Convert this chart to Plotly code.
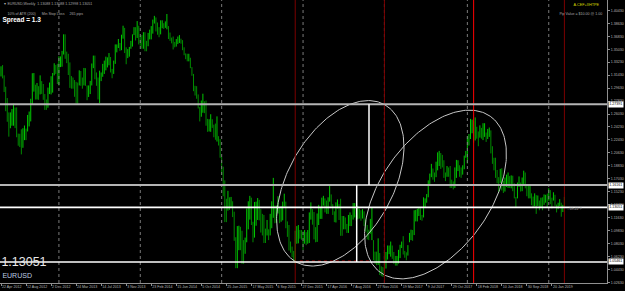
import math
import pandas as pd
import plotly.graph_objects as go

# ---------------- data: weekly EURUSD bars (low, high) ----------------
bars_2012 = [(1.3035,1.3215),(1.3125,1.3266),(1.3098,1.3283),(1.2908,1.3140),(1.2642,1.2982),(1.2495,1.2825),
             (1.2288,1.2625),(1.2405,1.2625),(1.2440,1.2672),(1.2440,1.2747),(1.2407,1.2693),(1.2280,1.2695),
             (1.2162,1.2330),(1.2143,1.2328),(1.2042,1.2390),(1.2133,1.2405),(1.2240,1.2443),(1.2240,1.2400),
             (1.2360,1.2590),(1.2430,1.2637),(1.2500,1.2815),(1.2730,1.3170),(1.2914,1.3172),(1.2804,1.3010),
             (1.2805,1.3034),(1.2800,1.2990),(1.2875,1.3140),(1.2882,1.3060),(1.2800,1.3020),(1.2660,1.2880),
             (1.2660,1.2805),(1.2690,1.2970),(1.2880,1.3040),(1.2875,1.3128),(1.2900,1.3173),(1.3140,1.3308),
             (1.3160,1.3285),(1.3020,1.3300)]
bars_2013 = [(1.3000,1.3405),(1.3255,1.3403),(1.3260,1.3480),(1.3430,1.3711),(1.3370,1.3710),(1.3310,1.3470),
             (1.3145,1.3440),(1.2966,1.3320),(1.2955,1.3130),(1.2955,1.3110),(1.2842,1.3075),(1.2750,1.3050),
             (1.2745,1.3040),(1.3000,1.3210),(1.2995,1.3200),(1.2955,1.3110),(1.3000,1.3243),(1.2995,1.3240),
             (1.2795,1.3000),(1.2840,1.3000),(1.2880,1.3063),(1.3000,1.3305),(1.3240,1.3415),(1.3085,1.3415),
             (1.2995,1.3180),(1.2805,1.3110),(1.2755,1.3205),(1.3060,1.3180),(1.3120,1.3300),(1.3160,1.3345),
             (1.3210,1.3400),(1.3250,1.3390),(1.3280,1.3450),(1.3180,1.3395),(1.3100,1.3230),(1.3160,1.3345),
             (1.3300,1.3570),(1.3460,1.3570),(1.3520,1.3645),(1.3480,1.3590),(1.3490,1.3705),(1.3650,1.3830),
             (1.3450,1.3800),(1.3295,1.3530),(1.3380,1.3505),(1.3400,1.3535),(1.3510,1.3620),(1.3540,1.3710),
             (1.3700,1.3810),(1.3625,1.3810),(1.3660,1.3895),(1.3570,1.3830)]
bars_2014 = [(1.3550,1.3685),(1.3510,1.3700),(1.3510,1.3740),(1.3475,1.3740),(1.3475,1.3620),(1.3545,1.3730),
             (1.3640,1.3775),(1.3640,1.3825),(1.3720,1.3915),(1.3860,1.3967),(1.3750,1.3945),(1.3705,1.3875),
             (1.3670,1.3810),(1.3710,1.3905),(1.3795,1.3905),(1.3785,1.3865),(1.3800,1.3890),(1.3780,1.3993),
             (1.3645,1.3825),(1.3620,1.3735),(1.3585,1.3665),(1.3500,1.3680),(1.3530,1.3605),(1.3540,1.3645),
             (1.3575,1.3680),(1.3590,1.3700),(1.3580,1.3650),(1.3490,1.3630),(1.3420,1.3530),(1.3365,1.3445),
             (1.3335,1.3440),(1.3335,1.3440),(1.3240,1.3385),(1.3135,1.3255),(1.2920,1.3160),(1.2860,1.2995),
             (1.2815,1.2990),(1.2680,1.2875),(1.2500,1.2700),(1.2565,1.2790),(1.2620,1.2885),(1.2615,1.2780),
             (1.2440,1.2790),(1.2355,1.2535),(1.2360,1.2530),(1.2355,1.2600),(1.2410,1.2530),(1.2280,1.2455),
             (1.2245,1.2470),(1.2220,1.2570),(1.2165,1.2295),(1.1995,1.2255)]
bars_2015 = [(1.1755,1.2005),(1.1460,1.1870),(1.1100,1.1680),(1.1100,1.1425),(1.1260,1.1535),(1.1270,1.1445),
             (1.1305,1.1450),(1.1170,1.1390),(1.0840,1.1245),(1.0460,1.0890),(1.0460,1.1045),(1.0710,1.1050),
             (1.0710,1.1035),(1.0520,1.0980),(1.0520,1.0850),(1.0660,1.0885),(1.0820,1.1290),(1.1000,1.1390),
             (1.1135,1.1465),(1.1060,1.1440),(1.0820,1.1105),(1.0885,1.1380),(1.1050,1.1385),(1.1130,1.1435),
             (1.1125,1.1410),(1.0955,1.1280),(1.0915,1.1215),(1.0810,1.1200),(1.0810,1.1010),(1.0915,1.1130),
             (1.0850,1.1000),(1.0915,1.1215),(1.1015,1.1390),(1.1160,1.1715),(1.1085,1.1330),(1.1090,1.1330),
             (1.1220,1.1460),(1.1085,1.1300),(1.1105,1.1320),(1.1125,1.1385),(1.1315,1.1495),(1.1015,1.1385),
             (1.0895,1.1110),(1.0705,1.1060),(1.0675,1.0830),(1.0610,1.0760),(1.0560,1.0700),(1.0525,1.0980),
             (1.0800,1.1045),(1.0805,1.1060),(1.0870,1.0990),(1.0855,1.0990)]
bars_2016 = [(1.0710,1.0970),(1.0800,1.0990),(1.0780,1.0960),(1.0800,1.0990),(1.0810,1.1235),(1.1135,1.1375),
             (1.1065,1.1280),(1.0860,1.1240),(1.0820,1.1030),(1.0825,1.1220),(1.1060,1.1340),(1.1145,1.1305),
             (1.1145,1.1440),(1.1330,1.1465),(1.1235,1.1430),(1.1215,1.1400),(1.1215,1.1445),(1.1385,1.1615),
             (1.1320,1.1485),(1.1200,1.1350),(1.1100,1.1250),(1.1095,1.1375),(1.1290,1.1415),(1.1130,1.1350),
             (1.0910,1.1425),(1.0910,1.1185),(1.1000,1.1185),(1.1000,1.1165),(1.0950,1.1075),(1.0950,1.1200),
             (1.1045,1.1235),(1.1045,1.1200),(1.1135,1.1365),(1.1165,1.1365),(1.1120,1.1200),(1.1140,1.1325),
             (1.1150,1.1285),(1.1120,1.1265),(1.1150,1.1280),(1.1045,1.1250),(1.0965,1.1140),(1.0860,1.1060),
             (1.0850,1.0995),(1.0940,1.1145),(1.0850,1.1300),(1.0570,1.0850),(1.0520,1.0690),(1.0500,1.0690),
             (1.0505,1.0875),(1.0365,1.0670),(1.0350,1.0485),(1.0340,1.0475)]
bars_2017 = [(1.0340,1.0685),(1.0455,1.0685),(1.0580,1.0775),(1.0655,1.0775),(1.0620,1.0830),(1.0590,1.0775),
             (1.0520,1.0685),(1.0495,1.0630),(1.0495,1.0630),(1.0525,1.0715),(1.0600,1.0785),(1.0740,1.0830),
             (1.0650,1.0905),(1.0605,1.0700),(1.0570,1.0680),(1.0635,1.0780),(1.0820,1.0950),(1.0850,1.0995),
             (1.0840,1.0990),(1.0920,1.1265),(1.1110,1.1270),(1.1110,1.1285),(1.1185,1.1295),(1.1130,1.1295),
             (1.1120,1.1200),(1.1165,1.1445),(1.1310,1.1430),(1.1370,1.1490),(1.1445,1.1680),(1.1610,1.1775),
             (1.1725,1.1910),(1.1690,1.1845),(1.1660,1.1790),(1.1725,1.1940),(1.1820,1.2070),(1.1880,1.2090),
             (1.1840,1.2060),(1.1860,1.2035),(1.1715,1.1960),(1.1670,1.1790),(1.1730,1.1880),(1.1730,1.1860),
             (1.1575,1.1880),(1.1575,1.1690),(1.1555,1.1665),(1.1575,1.1860),(1.1715,1.1965),(1.1810,1.1960),
             (1.1730,1.1890),(1.1715,1.1860),(1.1760,1.1890),(1.1835,1.2025),(1.1995,1.2090)]
bars_2018 = [(1.1915,1.2295),(1.2165,1.2325),(1.2255,1.2535),(1.2335,1.2525),(1.2205,1.2510),(1.2235,1.2555),
             (1.2260,1.2425),(1.2155,1.2360),(1.2275,1.2445),(1.2260,1.2410),(1.2240,1.2475),(1.2285,1.2475),
             (1.2215,1.2345),(1.2255,1.2395),(1.2285,1.2415),(1.2055,1.2375),(1.1910,1.2155),(1.1820,1.1995),
             (1.1715,1.1995),(1.1640,1.1825),(1.1510,1.1725),(1.1645,1.1840),(1.1540,1.1850),(1.1505,1.1675),
             (1.1525,1.1720),(1.1590,1.1760),(1.1575,1.1790),(1.1575,1.1740),(1.1570,1.1750),(1.1530,1.1745),
             (1.1430,1.1640),(1.1300,1.1450),(1.1430,1.1650),(1.1590,1.1735),(1.1525,1.1650),(1.1530,1.1720),
             (1.1610,1.1815),(1.1570,1.1790),(1.1460,1.1620),(1.1430,1.1620),(1.1430,1.1620),(1.1335,1.1500),
             (1.1300,1.1455),(1.1320,1.1500),(1.1215,1.1475),(1.1325,1.1470),(1.1265,1.1400),(1.1300,1.1440),
             (1.1265,1.1445),(1.1340,1.1485),(1.1370,1.1480),(1.1305,1.1495)]
bars_2019 = [(1.1400,1.1570),(1.1350,1.1545),(1.1290,1.1440),(1.1400,1.1515),(1.1325,1.1480),(1.1235,1.1345),
             (1.1280,1.1370),(1.1325,1.1420),(1.1175,1.1370),(1.1240,1.1340),(1.1300,1.1450)]
year_blocks = [("2012-04-15", bars_2012), ("2013-01-06", bars_2013), ("2014-01-05", bars_2014),
               ("2015-01-04", bars_2015), ("2016-01-03", bars_2016), ("2017-01-01", bars_2017),
               ("2018-01-07", bars_2018), ("2019-01-06", bars_2019)]

x_tick_labels = ["22 Apr 2012", "12 Aug 2012", "2 Dec 2012", "24 Mar 2013", "14 Jul 2013", "3 Nov 2013",
                 "23 Feb 2014", "15 Jun 2014", "5 Oct 2014", "25 Jan 2015", "17 May 2015", "6 Sep 2015",
                 "27 Dec 2015", "17 Apr 2016", "7 Aug 2016", "27 Nov 2016", "19 Mar 2017", "9 Jul 2017",
                 "29 Oct 2017", "18 Feb 2018", "10 Jun 2018", "30 Sep 2018", "20 Jan 2019"]
y_tick_labels = ["1.02630", "1.04430", "1.06230", "1.08030", "1.09830", "1.11630", "1.13430", "1.15230",
                 "1.17030", "1.18830", "1.20630", "1.22430", "1.24230", "1.26030", "1.27830", "1.29630",
                 "1.31430", "1.33230", "1.35030", "1.36830", "1.38630", "1.40430"]

level_lines = [1.27391, 1.16161, 1.13051, 1.05461]          # horizontal levels
level_colors = ["#B4B4B4", "#B4B4B4", "#FFFFFF", "#FFFFFF"]
year_separators = ["2013-01-06", "2014-01-05", "2015-01-04", "2016-01-03", "2017-01-01", "2018-01-07", "2019-01-06"]
red_lines = ["2015-11-29", "2017-01-01", "2018-02-04", "2019-03-17"]
red_colors = ["#7A0000", "#7A0000", "#FF0000", "#7A0000"]
measure_lines = [("2016-10-24", 1.27391, 1.16161), ("2016-08-30", 1.16161, 1.05461)]
red_dotted = ("2015-12-20", "2016-10-30", 1.0560)
bid_price = "1.13051"

# ---------------- pixel <-> value helpers (chart calibration) ----------------
W, H = 625, 291
PW, PH = 607, 283                      # plot area size
BASE = pd.Timestamp("2012-04-22")
PXW = 1.565                            # px per week
P_REF, Y_REF, PPP = 1.3993, 14.0, 0.00139


def px_to_date(px):
    return BASE + pd.Timedelta(days=7 * (px - 1) / PXW)


def py_to_price(py):
    return P_REF - (py - Y_REF) * PPP


fig = go.Figure()

# bars
up_x, up_y, dn_x, dn_y = [], [], [], []
prev_mid = None
for start, bars in year_blocks:
    dates = pd.date_range(start, periods=len(bars), freq="7D")
    for d, (lo, hi) in zip(dates, bars):
        mid = lo + hi
        if prev_mid is None or mid >= prev_mid:
            up_x += [d, d, None]; up_y += [lo, hi, None]
        else:
            dn_x += [d, d, None]; dn_y += [lo, hi, None]
        prev_mid = mid

fig.add_trace(go.Scatter(x=dn_x, y=dn_y, mode="lines", line=dict(color="#008A00", width=1),
                         hoverinfo="skip", showlegend=False))
fig.add_trace(go.Scatter(x=up_x, y=up_y, mode="lines", line=dict(color="#00C800", width=1),
                         hoverinfo="skip", showlegend=False))

# ellipses (center px, semi-axes px, angle deg)
ellipses = [((340.3, 183.3), 90.3, 52.4, 60.5), ((435.5, 194.5), 95.5, 55.0, 55.0)]
for (cx, cy), a, b, ang in ellipses:
    th = math.radians(ang)
    ex, ey = [], []
    for i in range(241):
        t = 2 * math.pi * i / 240
        px = cx + a * math.cos(t) * math.cos(th) - b * math.sin(t) * math.sin(th)
        py = cy - (a * math.cos(t) * math.sin(th) + b * math.sin(t) * math.cos(th))
        ex.append(px_to_date(px)); ey.append(py_to_price(py))
    fig.add_trace(go.Scatter(x=ex, y=ey, mode="lines", line=dict(color="#C8C8C8", width=1),
                             hoverinfo="skip", showlegend=False))

shapes = []
for d in year_separators:
    shapes.append(dict(type="line", xref="x", yref="paper", x0=d, x1=d, y0=0, y1=1,
                       line=dict(color="#7A7A7A", width=1, dash="dot")))
for d, c in zip(red_lines, red_colors):
    shapes.append(dict(type="line", xref="x", yref="paper", x0=d, x1=d, y0=0, y1=1,
                       line=dict(color=c, width=1)))
shapes.append(dict(type="line", xref="x", yref="y", x0=red_dotted[0], x1=red_dotted[1],
                   y0=red_dotted[2], y1=red_dotted[2], line=dict(color="#A00000", width=1, dash="dot")))
for v, c in zip(level_lines, level_colors):
    shapes.append(dict(type="line", xref="paper", yref="y", x0=0, x1=1, y0=v, y1=v,
                       line=dict(color=c, width=2 if c != "#FFFFFF" else 1.6)))
for d, y0, y1 in measure_lines:
    shapes.append(dict(type="line", xref="x", yref="y", x0=d, x1=d, y0=y0, y1=y1,
                       line=dict(color="#FFFFFF", width=1.5)))

annotations = []


def ann(text, px, py, size, color, xanchor="left", bold=False, bg=None, font="Liberation Sans"):
    annotations.append(dict(text=("<b>%s</b>" % text) if bold else text, xref="paper", yref="paper",
                            x=px / PW, y=1 - py / PH, xanchor=xanchor, yanchor="middle", showarrow=False,
                            font=dict(size=size, color=color, family=font), bgcolor=bg, borderpad=0.4))


ann("▾ EURUSD,Weekly  1.13088 1.13088 1.12998 1.13051", 3, 4.5, 3.6, "#A8A8A8")
ann("10% of ATR (200)      Min Stop Loss     265 pips", 6, 14, 3.6, "#A8A8A8")
ann("Spread = 1.3", 1, 21, 6.5, "#FFFFFF", bold=True)
ann("A.CEF+IIHTPE", 601, 5.5, 3.8, "#D8D800", xanchor="right")
ann("Pip Value = $10.00 @ 1.00", 604, 14.5, 3.6, "#A8A8A8", xanchor="right")
ann("- 59.22 ?", 566, 209.5, 3.6, "#A8A8A8")
ann(bid_price, 0, 262, 12.5, "#E8E8E8")
ann("EURUSD", 1, 276, 7, "#BCCCE0")
for v in level_lines:
    annotations.append(dict(text="%.5f" % v, xref="paper", yref="y", x=608 / PW, y=v, xanchor="left",
                            yanchor="middle", showarrow=False, bgcolor="#FFFFFF", borderpad=0.3,
                            font=dict(size=3.6, color="#000000", family="Liberation Sans")))

x_tick_vals = [pd.to_datetime(s, format="%d %b %Y") for s in x_tick_labels]
y_tick_vals = [float(s) for s in y_tick_labels]

fig.update_layout(
    width=W, height=H, margin=dict(l=0, r=W - PW, t=0, b=H - PH, autoexpand=False),
    paper_bgcolor="#000000", plot_bgcolor="#000000", showlegend=False,
    shapes=shapes, annotations=annotations,
    xaxis=dict(type="date", range=[px_to_date(0), px_to_date(PW)], tickvals=x_tick_vals,
               ticktext=x_tick_labels, ticklabelposition="outside right", tickangle=0, ticks="outside",
               ticklen=2, automargin=False,
               tickcolor="#909090", tickfont=dict(size=3.6, color="#B8B8B8", family="Liberation Sans"),
               showgrid=False, zeroline=False, showline=True, linecolor="#909090", linewidth=1, fixedrange=True),
    yaxis=dict(side="right", range=[py_to_price(PH), py_to_price(0)], tickvals=y_tick_vals,
               ticktext=y_tick_labels, ticks="outside", ticklen=2, tickcolor="#909090", automargin=False,
               tickfont=dict(size=3.6, color="#B8B8B8", family="Liberation Sans"),
               showgrid=False, zeroline=False, showline=True, linecolor="#909090", linewidth=1, fixedrange=True),
)

fig.write_html("out.html")
